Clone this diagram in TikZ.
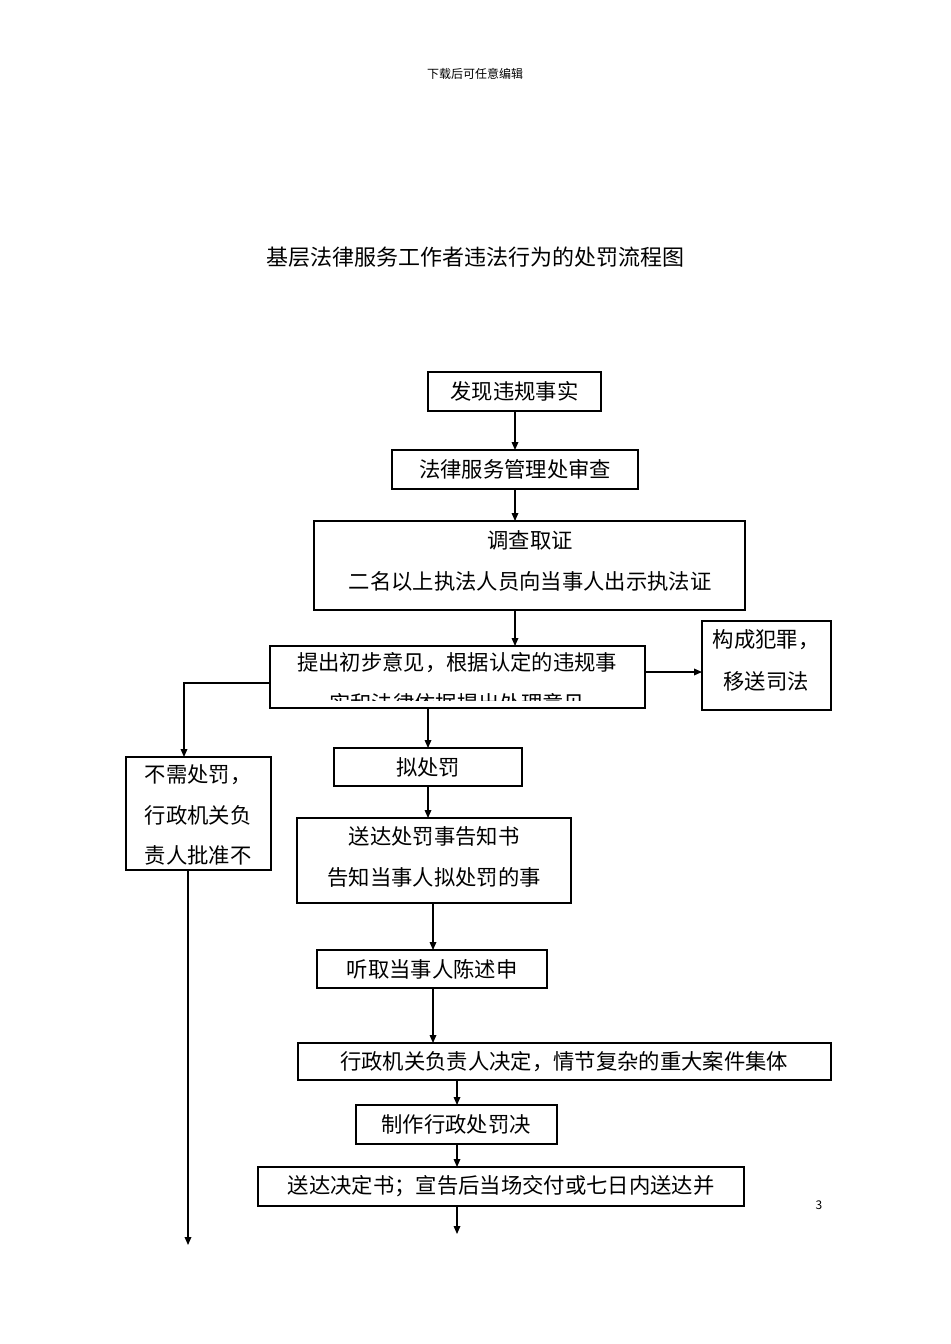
\documentclass[tikz,border=0pt]{standalone}
\usepackage{fontspec}
\setmainfont{Noto Sans CJK SC}
\usetikzlibrary{arrows.meta}
\begin{document}
\begin{tikzpicture}[x=0.75pt,y=-0.75pt,
  bx/.style={draw,line width=0.9pt},
  tx/.style={font=\fontsize{16}{18}\selectfont,inner sep=0pt},
  ar/.style={line width=0.9pt,-{Triangle[length=6pt,width=5pt]}}]
\useasboundingbox (0,0) rectangle (950,1344);
\node[font=\fontsize{9}{10}\selectfont] (hdr) at (475,74) {下载后可任意编辑};
\node[font=\fontsize{16.5}{18}\selectfont] (title) at (475,257) {基层法律服务工作者违法行为的处罚流程图};
\node[font=\fontsize{9}{10}\selectfont] (pg) at (819,1205) {3};
% boxes
\draw[bx] (428,372) rectangle (601,411); \node[tx] (a) at (514.5,391.5) {发现违规事实};
\draw[bx] (392,450) rectangle (638,489); \node[tx] (b) at (515,469.5) {法律服务管理处审查};
\draw[bx] (314,521) rectangle (745,610);
\node[tx] (c1) at (530,540) {调查取证}; \node[tx] (c2) at (530,581) {二名以上执法人员向当事人出示执法证};
\begin{scope}
\clip (270,646) rectangle (645,700);
\node[tx] (d1) at (457,663) {提出初步意见，根据认定的违规事};
\node[tx] (d2) at (457,703) {实和法律依据提出处理意见};
\end{scope}
\draw[bx] (270,646) rectangle (645,708);
\draw[bx] (702,621) rectangle (831,710);
\node[tx] (e1) at (766,640) {构成犯罪，}; \node[tx] (e2) at (766,681) {移送司法};
\draw[bx] (126,757) rectangle (271,870);
\node[tx] (f1) at (198,775) {不需处罚，}; \node[tx] (f2) at (198,815) {行政机关负}; \node[tx] (f3) at (198,855) {责人批准不};
\draw[bx] (334,748) rectangle (522,786); \node[tx] (g) at (428,767) {拟处罚};
\draw[bx] (297,818) rectangle (571,903);
\node[tx] (h1) at (434,836) {送达处罚事告知书}; \node[tx] (h2) at (434,877) {告知当事人拟处罚的事};
\draw[bx] (317,950) rectangle (547,988); \node[tx] (i) at (432,969) {听取当事人陈述申};
\draw[bx] (298,1043) rectangle (831,1080); \node[tx] (j) at (564,1061.5) {行政机关负责人决定，情节复杂的重大案件集体};
\draw[bx] (356,1105) rectangle (557,1144); \node[tx] (k) at (456,1124.5) {制作行政处罚决};
\draw[bx] (258,1167) rectangle (744,1206); \node[tx] (l) at (501,1186.5) {送达决定书；宣告后当场交付或七日内送达并};
% arrows
\coordinate (p1) at (515,411); \coordinate (p2) at (515,450); \draw[ar] (p1) -- (p2);
\coordinate (p3) at (515,489); \coordinate (p4) at (515,521); \draw[ar] (p3) -- (p4);
\coordinate (p5) at (515,610); \coordinate (p6) at (515,646); \draw[ar] (p5) -- (p6);
\coordinate (p7) at (645,672); \coordinate (p8) at (702,672); \draw[ar] (p7) -- (p8);
\coordinate (p9) at (270,683); \coordinate (p10) at (184,757); \draw[ar] (p9) -| (p10);
\coordinate (p11) at (428,708); \coordinate (p12) at (428,748); \draw[ar] (p11) -- (p12);
\coordinate (p13) at (428,786); \coordinate (p14) at (428,818); \draw[ar] (p13) -- (p14);
\coordinate (p15) at (433,903); \coordinate (p16) at (433,950); \draw[ar] (p15) -- (p16);
\coordinate (p17) at (433,988); \coordinate (p18) at (433,1043); \draw[ar] (p17) -- (p18);
\coordinate (p19) at (457,1080); \coordinate (p20) at (457,1105); \draw[ar] (p19) -- (p20);
\coordinate (p21) at (457,1144); \coordinate (p22) at (457,1167); \draw[ar] (p21) -- (p22);
\coordinate (p23) at (457,1206); \coordinate (p24) at (457,1234); \draw[ar] (p23) -- (p24);
\coordinate (p25) at (188,870); \coordinate (p26) at (188,1245); \draw[ar] (p25) -- (p26);
\end{tikzpicture}
\end{document}
